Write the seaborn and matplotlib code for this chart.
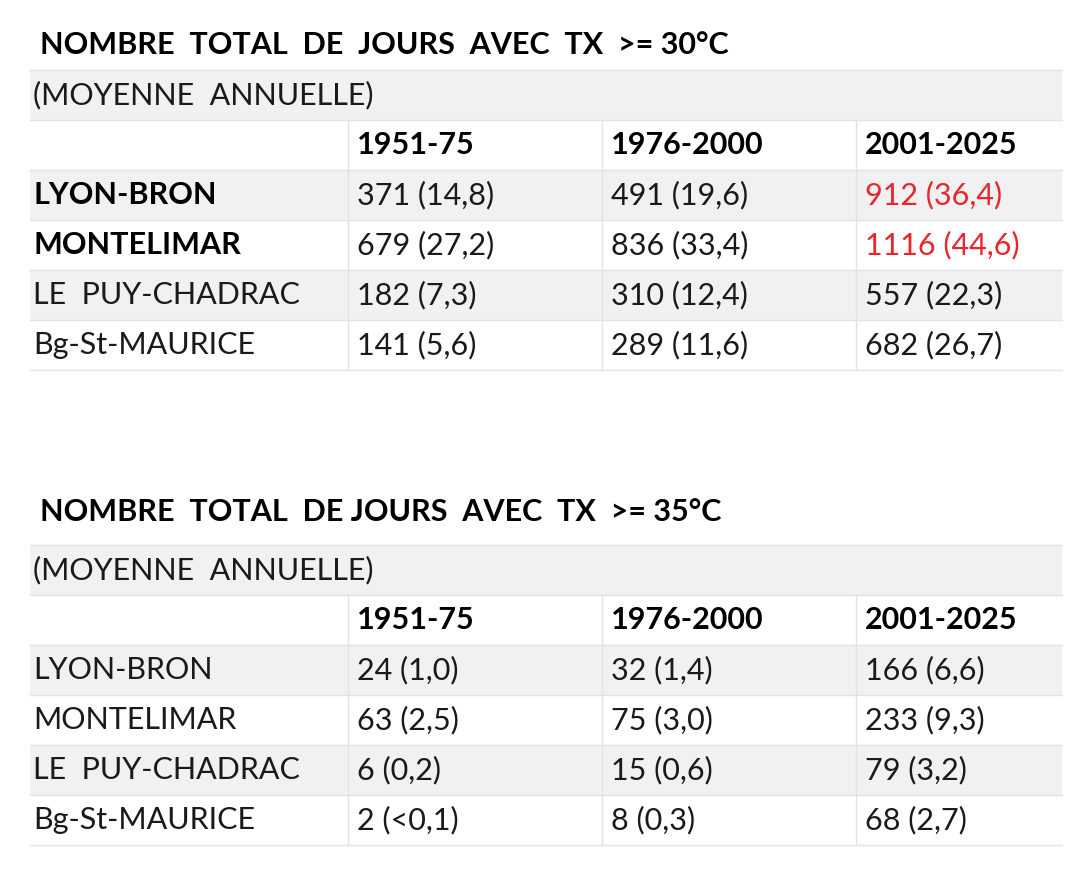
import matplotlib.pyplot as plt
import seaborn as sns

sns.set_style("white")
plt.rcParams['font.family'] = ['Lato', 'DejaVu Sans']

periods = ['1951-75', '1976-2000', '2001-2025']
stations = ['LYON-BRON', 'MONTELIMAR', 'LE  PUY-CHADRAC', 'Bg-St-MAURICE']

days30 = [[371, 491, 912], [679, 836, 1116], [182, 310, 557], [141, 289, 682]]
mean30 = [['14,8', '19,6', '36,4'], ['27,2', '33,4', '44,6'],
          ['7,3', '12,4', '22,3'], ['5,6', '11,6', '26,7']]
days35 = [[24, 32, 166], [63, 75, 233], [6, 15, 79], [2, 8, 68]]
mean35 = [['1,0', '1,4', '6,6'], ['2,5', '3,0', '9,3'],
          ['0,2', '0,6', '3,2'], ['<0,1', '0,3', '2,7']]

fig = plt.figure(figsize=(10.8, 8.69), dpi=100)
ax = fig.add_axes([0, 0, 1, 1])
ax.set_xlim(0, 1080)
ax.set_ylim(869, 0)
ax.axis('off')

GRAY = '#f1f1f1'
LINE = '#e2e2e2'
RED = '#e8262b'
TXT = '#1a1a1a'
col_x = [33, 357, 611, 865]
vlines = [348, 602, 856]
FS = 22


def draw_table(top, title, title_off, days, means, bold_rows, red_cells):
    ax.text(40, top - title_off, title, fontsize=FS, fontweight='bold', va='center', color='black')
    h = 50
    x0, x1 = 30, 1062
    # row backgrounds
    for r in range(6):
        y = top + r * h
        if r in (0, 2, 4):
            ax.fill_between([x0, x1], y, y + h, color=GRAY, lw=0)
        ax.plot([x0, x1], [y + h, y + h], color=LINE, lw=1)
    ax.plot([x0, x1], [top, top], color=LINE, lw=1)
    for vx in vlines:
        ax.plot([vx, vx], [top + h, top + 6 * h], color=LINE, lw=1)
    ax.text(col_x[0], top + h / 2, '(MOYENNE  ANNUELLE)', fontsize=FS, va='center', color=TXT)
    for j, p in enumerate(periods):
        ax.text(col_x[j + 1], top + 1.5 * h, p, fontsize=FS, fontweight='bold', va='center', color='black')
    for i, st in enumerate(stations):
        y = top + (i + 2.5) * h
        ax.text(col_x[0], y, st, fontsize=FS, va='center', color='black' if i in bold_rows else TXT,
                fontweight='bold' if i in bold_rows else 'normal')
        for j in range(3):
            c = RED if (i, j) in red_cells else TXT
            ax.text(col_x[j + 1], y, f'{days[i][j]} ({means[i][j]})', fontsize=FS, va='center', color=c)


draw_table(70, 'NOMBRE  TOTAL  DE  JOURS  AVEC  TX  >= 30°C', 25, days30, mean30,
           bold_rows=(0, 1), red_cells={(0, 2), (1, 2)})
draw_table(545, 'NOMBRE  TOTAL  DE JOURS  AVEC  TX  >= 35°C', 33, days35, mean35,
           bold_rows=(), red_cells=set())

fig.savefig('out.png', dpi=100)
